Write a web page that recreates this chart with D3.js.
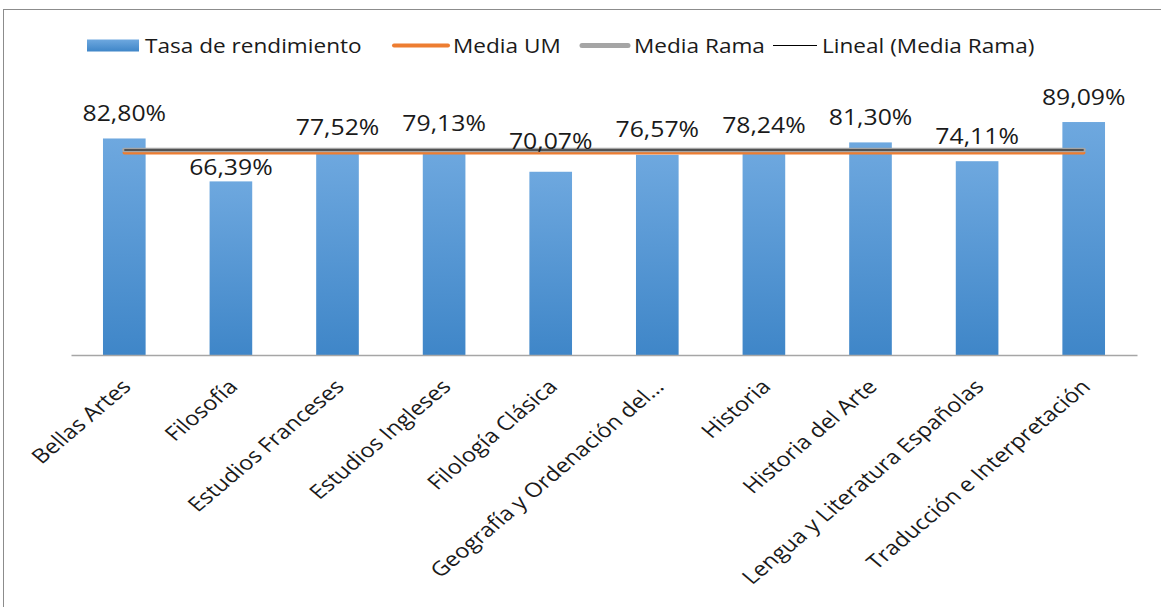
<!DOCTYPE html>
<html><head><meta charset="utf-8">
<script src="https://cdn.jsdelivr.net/npm/d3@7"></script>
<style>
html,body{margin:0;padding:0;background:#fff;}
svg{display:block;font-family:"Open Sans",Lato,sans-serif;}
</style></head>
<body>
<svg id="chart" width="1161" height="607"></svg>
<script>
const categories = ["Bellas Artes","Filosofía","Estudios Franceses","Estudios Ingleses","Filología Clásica","Geografía y Ordenación del…","Historia","Historia del Arte","Lengua y Literatura Españolas","Traducción e Interpretación"];
const tasaRendimiento = [82.80,66.39,77.52,79.13,70.07,76.57,78.24,81.30,74.11,89.09];
const mediaUM = [77.3,77.3,77.3,77.3,77.3,77.3,77.3,77.3,77.3,77.3];
const mediaRama = [78.4,78.4,78.4,78.4,78.4,78.4,78.4,78.4,78.4,78.4];
const legendLabels = ["Tasa de rendimiento","Media UM","Media Rama","Lineal (Media Rama)"];
const valueLabels = ["82,80%","66,39%","77,52%","79,13%","70,07%","76,57%","78,24%","81,30%","74,11%","89,09%"];

const svg = d3.select("#chart");
const SX = 1.18; // the original picture is stretched horizontally

// layout-only nudges of individual data labels (pixels), as placed in the original
const labelNudge = {"Filosofía": 11, "Filología Clásica": -5};
// legend item left edges (layout)
const legendX = [87, 392, 580, 773];

// chart border
svg.append("rect").attr("x",3.5).attr("y",9.5).attr("width",1300).attr("height",800)
  .attr("fill","none").attr("stroke","#8c8c8c").attr("stroke-width",1);

const defs = svg.append("defs");
const grad = defs.append("linearGradient").attr("id","barGrad").attr("x1",0).attr("y1",0).attr("x2",0).attr("y2",1);
grad.append("stop").attr("offset","0%").attr("stop-color","#6ea8df");
grad.append("stop").attr("offset","100%").attr("stop-color","#3f86c8");

const x = d3.scaleBand().domain(categories).range([71,1137]).paddingInner(0.6).paddingOuter(0.3);
const y = d3.scaleLinear().domain([0,100]).range([355,93.5]);

// bars
svg.append("g").selectAll("rect").data(categories).join("rect")
  .attr("x",d=>x(d)).attr("width",x.bandwidth())
  .attr("y",(d,i)=>y(tasaRendimiento[i])).attr("height",(d,i)=>y(0)-y(tasaRendimiento[i]))
  .attr("fill","url(#barGrad)");

// axis
const axis = svg.append("g").attr("transform",`translate(0,${y(0)})`)
  .call(d3.axisBottom(x).tickSize(0).tickFormat(""));
axis.select(".domain").attr("stroke","#a6a6a6").attr("stroke-width",1.3);

const cx = d => x(d)+x.bandwidth()/2;

// category labels
svg.append("g").selectAll("text").data(categories).join("text")
  .attr("transform",d=>`translate(${cx(d)+8},388) scale(${SX},1) rotate(-45)`)
  .attr("text-anchor","end").attr("font-size",20).attr("fill","#1a1a1a").text(d=>d);

// lines
const lineGen = arr => d3.line().x(d=>cx(d)).y((d,i)=>y(arr[i]))(categories);
svg.append("path").attr("d",lineGen(mediaUM)).attr("fill","none").attr("stroke","#ed7d31").attr("stroke-width",3.5).attr("stroke-linecap","round");
svg.append("path").attr("d",lineGen(mediaRama)).attr("fill","none").attr("stroke","#a5a5a5").attr("stroke-width",4.5).attr("stroke-linecap","round");
svg.append("path").attr("d",lineGen(mediaRama)).attr("fill","none").attr("stroke","#000").attr("stroke-width",1.2);

// value labels
svg.append("g").selectAll("text").data(categories).join("text")
  .attr("transform",(d,i)=>`translate(${cx(d)},${y(tasaRendimiento[i])-17.5+(labelNudge[d]||0)}) scale(${SX},1)`)
  .attr("text-anchor","middle").attr("font-size",21).attr("fill","#1a1a1a")
  .text((d,i)=>valueLabels[i]);

// legend
const lg = svg.append("g");
const ly = 45.5;
legendLabels.forEach((lab,i)=>{
  const lx = legendX[i];
  let sw, gap;
  if(i===0){
    sw = 52; gap = 6;
    lg.append("rect").attr("x",lx).attr("y",ly-6).attr("width",sw).attr("height",12).attr("fill","url(#barGrad)");
  } else if(i===1){
    sw = 58; gap = 3;
    lg.append("line").attr("x1",lx+2).attr("x2",lx+sw-2).attr("y1",ly).attr("y2",ly).attr("stroke","#ed7d31").attr("stroke-width",4).attr("stroke-linecap","round");
  } else if(i===2){
    sw = 50; gap = 4;
    lg.append("line").attr("x1",lx+2).attr("x2",lx+sw-2).attr("y1",ly).attr("y2",ly).attr("stroke","#a5a5a5").attr("stroke-width",5).attr("stroke-linecap","round");
  } else {
    sw = 44; gap = 5;
    lg.append("line").attr("x1",lx).attr("x2",lx+sw).attr("y1",ly).attr("y2",ly).attr("stroke","#000").attr("stroke-width",1.2);
  }
  lg.append("text").attr("transform",`translate(${lx+sw+gap},${ly+7}) scale(1.13,1)`)
    .attr("font-size",20).attr("fill","#1a1a1a").text(lab);
});
</script>
</body></html>
